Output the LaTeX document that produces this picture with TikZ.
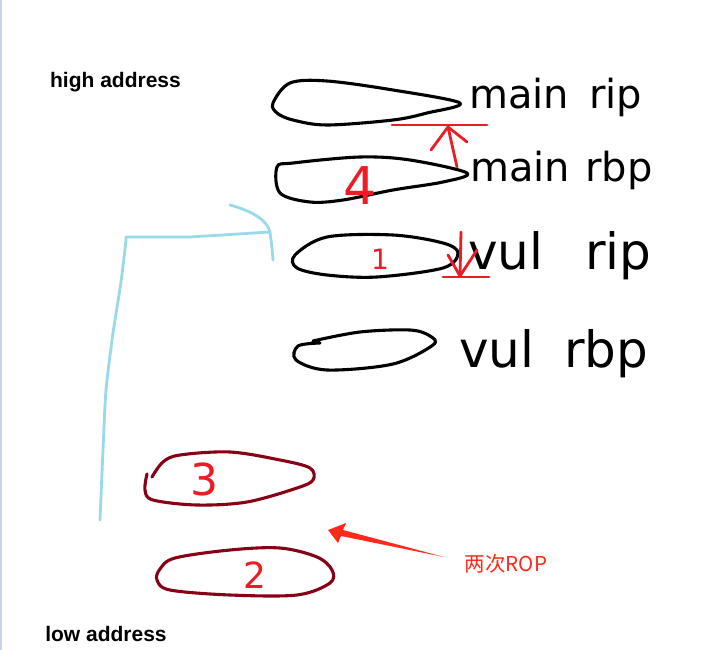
\documentclass[tikz,border=0pt]{standalone}
\usepackage{fontspec}
\setmainfont{DejaVu Sans}
\newfontfamily\lblfont{Liberation Sans}
\newfontfamily\cjkfont{Noto Sans CJK SC}
\definecolor{ink}{HTML}{000000}
\definecolor{pred}{HTML}{ED1C24}
\definecolor{darkred}{HTML}{880015}
\definecolor{skyb}{HTML}{99D9EA}
\definecolor{roporange}{HTML}{FF2A1A}
\definecolor{edgeb}{HTML}{C8D4E6}
\begin{document}
\begin{tikzpicture}[x=1pt,y=-1pt,
  blob/.style={draw=ink,line width=3.1pt,line cap=round,line join=round},
  redblob/.style={draw=darkred,line width=3.1pt,line cap=round,line join=round},
  redpen/.style={draw=pred,line width=2.8pt,line cap=round,line join=round},
  hand/.style={font=\fontsize{40}{40}\selectfont,inner sep=0pt,anchor=base west,text=ink},
  bighand/.style={hand,font=\fontsize{50}{50}\selectfont},
  digit/.style={text=pred,inner sep=0pt},
  addr/.style={font=\fontsize{21}{22}\selectfont\lblfont\bfseries,inner sep=0pt}]
\useasboundingbox (0,0) rectangle (707,650);
\fill[white] (0,0) rectangle (707,650);
\draw[edgeb,line width=1.5pt] (0.75,0) -- (0.75,650);
% address labels
\node[addr] (high) at (115.5,82) {high address};
\node[addr] (low) at (106,634) {low address};
% stack blobs
\draw[blob] plot[smooth cycle,tension=0.55] coordinates {(273,103) (290,83) (327,81) (393,90) (460,103) (427,113) (393,120) (327,125) (293,120) (277,113)};
\draw[blob] plot[smooth cycle,tension=0.55] coordinates {(277,167) (293,163) (360,157) (410,160) (467,173) (443,182) (393,190) (343,200) (310,202) (280,193)};
\draw[blob] plot[smooth cycle,tension=0.55] coordinates {(295,255) (327,237) (393,235) (443,243) (458,253) (443,268) (377,277) (327,275) (297,268)};
\draw[blob] plot[smooth,tension=0.55] coordinates {(320,343) (298,346) (296,360) (327,370) (393,364) (433,345) (430,336) (410,330) (360,332) (313,341)};
% labels
\node[hand] (mainrip) at (469,109) {main\hspace{20pt}rip};
\node[hand] (mainrbp) at (470,182) {main\hspace{15pt}rbp};
\node[bighand] (vulrip) at (468,269) {vul\hspace{42pt}rip};
\node[bighand] (vulrbp) at (459,367) {vul\hspace{30pt}rbp};
% numbers
\node[digit,font=\fontsize{52}{52}\selectfont] (n4) at (360,186) {4};
\node[digit,font=\fontsize{28}{28}\selectfont] (n1) at (380,259) {1};
\node[digit,font=\fontsize{44}{44}\selectfont] (n3) at (204,479) {3};
\node[digit,font=\fontsize{36}{36}\selectfont] (n2) at (255,575) {2};
% red up arrow
\coordinate (upA) at (457,167);
\coordinate (upB) at (448,127);
\draw[redpen] (392,125) -- (487,125);
\draw[redpen] (upA) -- (upB);
\draw[redpen] (431,150) -- (upB) -- (467,142);
% red down arrow
\coordinate (dnA) at (461,232);
\coordinate (dnB) at (460,276);
\draw[redpen] (443,277) -- (489,277);
\draw[redpen] (dnA) -- (dnB);
\draw[redpen] (448,255) -- (dnB) -- (477,250);
% blue bracket
\coordinate (bl1) at (126,237);
\coordinate (bl2) at (270,232);
\draw[skyb,line width=2.8pt,line cap=round,line join=round]
  plot[smooth,tension=0.4] coordinates {(100,520) (103,450) (106,390) (113,333) (121,282) (126,240)}
  -- (bl1) -- (190,237) -- (bl2) -- (272,248) -- (273,260);
\draw[skyb,line width=2.8pt,line cap=round] (230,205) .. controls (252,211) and (267,220) .. (bl2);
% dark red blobs
\draw[redblob] plot[smooth,tension=0.55] coordinates {(152,477) (163,462) (180,455) (230,452) (280,460) (310,468) (313,480) (297,488) (247,502) (197,505) (153,500) (145,490) (147,474)};
\draw[redblob] plot[smooth cycle,tension=0.55] coordinates {(160,569) (175,558) (230,550) (280,548) (317,557) (332,570) (330,583) (297,595) (230,595) (170,590) (157,580)};
% ROP arrow
\coordinate (ropTip) at (328,530);
\coordinate (ropTail) at (444,557);
\fill[roporange] (ropTip) -- (346,523) -- (343,530) -- (ropTail) -- (341,536) -- (338,543) -- cycle;
\node[text=roporange,font=\cjkfont\fontsize{20.5}{22}\selectfont,inner sep=0pt] (rop) at (506,564) {两次ROP};
\end{tikzpicture}
\end{document}
